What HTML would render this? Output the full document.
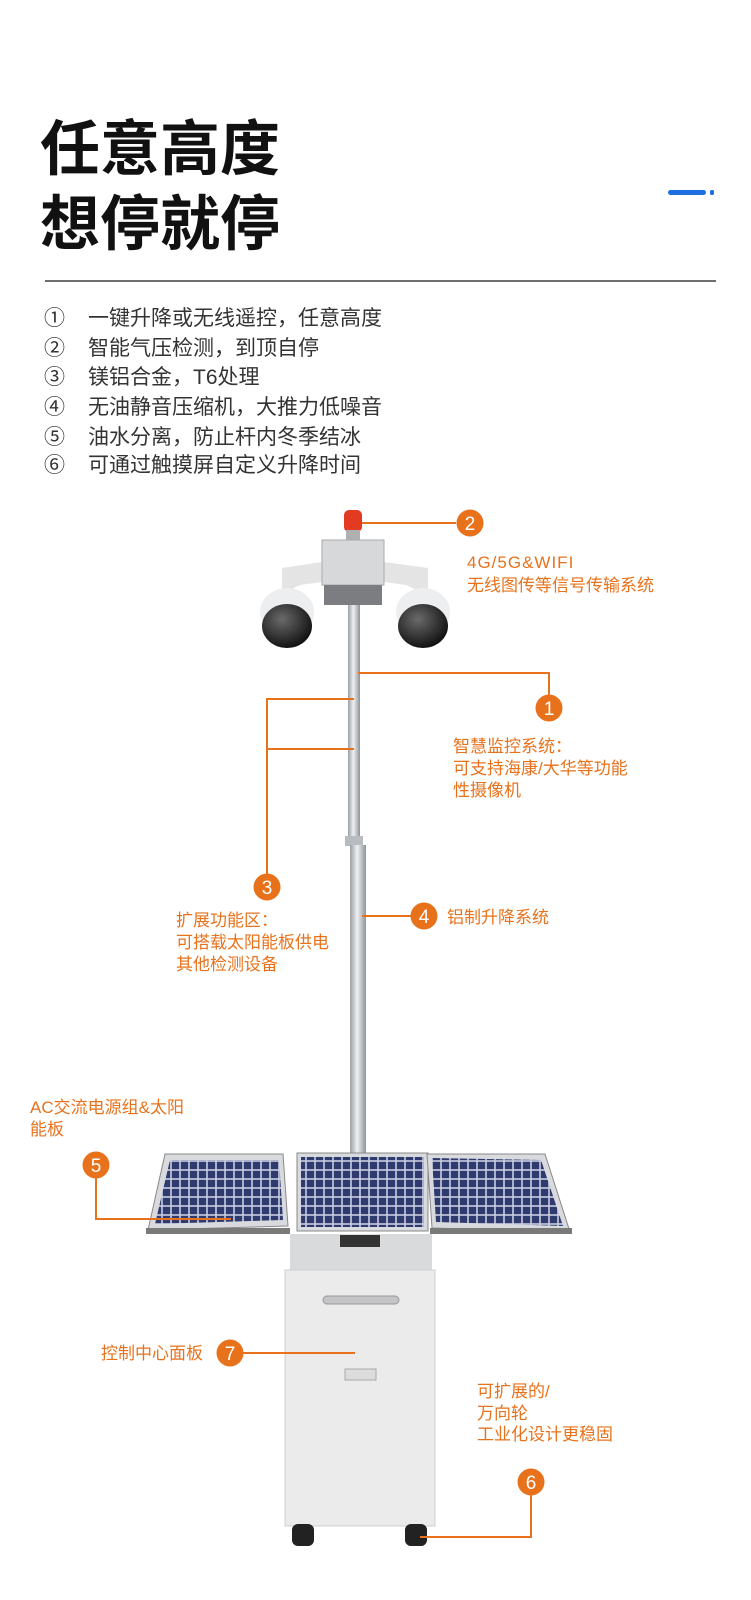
<!DOCTYPE html>
<html><head><meta charset="utf-8"><style>
html,body{margin:0;padding:0;background:#fff;}
svg{display:block}
.t{font-family:"Liberation Sans","Noto Sans CJK SC",sans-serif;}
.o{fill:#e8721c;font-size:17px;font-family:"Liberation Sans","Noto Sans CJK SC",sans-serif;}
.l{fill:#333;font-size:21px;font-family:"Liberation Sans","Noto Sans CJK SC",sans-serif;}
.n{fill:#fff;font-size:19px;font-family:"Liberation Sans",sans-serif;text-anchor:middle;}
</style></head><body>
<svg width="751" height="1600" viewBox="0 0 751 1600" xmlns="http://www.w3.org/2000/svg">
<defs>
<pattern id="cells" width="9" height="9" patternUnits="userSpaceOnUse">
<rect width="9" height="9" fill="#c9cde0"/><rect x="0.8" y="0.8" width="7.4" height="7.4" fill="#2f3a6e"/>
</pattern>
<linearGradient id="pole" x1="0" x2="1"><stop offset="0" stop-color="#9a9ea3"/><stop offset="0.45" stop-color="#eef0f2"/><stop offset="1" stop-color="#8f9397"/></linearGradient>
<radialGradient id="dome" cx="0.4" cy="0.35" r="0.7"><stop offset="0" stop-color="#6a6a6a"/><stop offset="1" stop-color="#0c0c0c"/></radialGradient>
</defs>
<!-- title -->
<text class="t" x="40" y="170" font-size="60" font-weight="bold" fill="#111" textLength="240" lengthAdjust="spacingAndGlyphs">任意高度</text>
<text class="t" x="40" y="245" font-size="60" font-weight="bold" fill="#111" textLength="240" lengthAdjust="spacingAndGlyphs">想停就停</text>
<rect x="668" y="190" width="38" height="5" rx="2.5" fill="#1f6fe0"/>
<rect x="710" y="190" width="4" height="5" rx="1.5" fill="#1f6fe0"/>
<rect x="45" y="280" width="671" height="2" fill="#6e6e6e"/>
<!-- list -->
<g class="l">
<text x="44" y="325">①</text><text x="88" y="325">一键升降或无线遥控，任意高度</text>
<text x="44" y="355">②</text><text x="88" y="355">智能气压检测，到顶自停</text>
<text x="44" y="384">③</text><text x="88" y="384">镁铝合金，T6处理</text>
<text x="44" y="414">④</text><text x="88" y="414">无油静音压缩机，大推力低噪音</text>
<text x="44" y="444">⑤</text><text x="88" y="444">油水分离，防止杆内冬季结冰</text>
<text x="44" y="472">⑥</text><text x="88" y="472">可通过触摸屏自定义升降时间</text>
</g>
<!-- pole -->
<rect x="348" y="600" width="12" height="242" fill="url(#pole)"/>
<rect x="345" y="836" width="18" height="10" fill="#b8bcc0"/>
<rect x="350" y="845" width="16" height="315" fill="url(#pole)"/>
<!-- beacon and box -->
<rect x="344" y="510" width="18" height="22" rx="5" fill="#e33a22"/>
<rect x="346" y="530" width="14" height="10" fill="#b0b0b0"/>
<path d="M282 568 L322 562 L322 582 L300 585 Q288 590 282 598 Z" fill="#e4e4e4"/>
<path d="M428 568 L384 562 L384 582 L406 585 Q418 590 428 598 Z" fill="#e4e4e4"/>
<rect x="322" y="540" width="62" height="45" fill="#d7d8da" stroke="#aaa"/>
<rect x="324" y="585" width="58" height="20" fill="#7b7d80"/>
<!-- cameras -->
<ellipse cx="287" cy="612" rx="27" ry="24" fill="#eceef0"/>
<ellipse cx="287" cy="626" rx="25" ry="22" fill="url(#dome)"/>
<ellipse cx="423" cy="612" rx="27" ry="24" fill="#eceef0"/>
<ellipse cx="423" cy="626" rx="25" ry="22" fill="url(#dome)"/>
<!-- solar panels -->
<g>
<polygon points="165,1154 283,1154 288,1226 148,1230" fill="#d8dade" stroke="#888"/>
<polygon points="170,1160 279,1160 283,1220 155,1224" fill="url(#cells)"/>
<rect x="297" y="1153" width="131" height="78" fill="#d8dade" stroke="#888"/>
<rect x="301" y="1157" width="123" height="70" fill="url(#cells)"/>
<polygon points="427,1154 545,1154 570,1232 432,1228" fill="#d8dade" stroke="#888"/>
<polygon points="432,1158 541,1160 563,1226 436,1222" fill="url(#cells)"/>
<rect x="146" y="1228" width="144" height="6" fill="#7a7a7a"/>
<rect x="430" y="1228" width="142" height="6" fill="#7a7a7a"/>
</g>
<!-- cabinet -->
<rect x="290" y="1234" width="142" height="38" fill="#d9dadc"/>
<rect x="340" y="1235" width="40" height="12" fill="#333"/>
<rect x="285" y="1270" width="150" height="256" fill="#ebebec" stroke="#cfcfd1"/>
<rect x="323" y="1296" width="76" height="8" rx="4" fill="#c4c4c6" stroke="#999"/>
<rect x="345" y="1369" width="31" height="11" fill="#dcdcdd" stroke="#aaa"/>
<rect x="292" y="1524" width="22" height="22" rx="6" fill="#222"/>
<rect x="405" y="1524" width="22" height="22" rx="6" fill="#222"/>
<!-- connectors -->
<g stroke="#e8721c" stroke-width="2" fill="none">
<path d="M362 523 H456"/>
<path d="M358 673 H549 V695"/>
<path d="M354 699 H267 V874 M267 749 H354"/>
<path d="M362 916 H411"/>
<path d="M96 1178 V1219 H231"/>
<path d="M243 1353 H355"/>
<path d="M531 1495 V1537 H420"/>
</g>
<g fill="#e8721c">
<circle cx="470" cy="523" r="13.5"/><circle cx="549" cy="708" r="13.5"/>
<circle cx="267" cy="887" r="13.5"/><circle cx="424" cy="916" r="13.5"/>
<circle cx="96" cy="1165" r="13.5"/><circle cx="230" cy="1353" r="13.5"/>
<circle cx="531" cy="1482" r="13.5"/>
</g>
<g class="n">
<text x="470" y="530">2</text><text x="549" y="715">1</text><text x="267" y="894">3</text>
<text x="424" y="923">4</text><text x="96" y="1172">5</text><text x="230" y="1360">7</text><text x="531" y="1489">6</text>
</g>
<!-- labels -->
<g class="o">
<text x="467" y="568" letter-spacing="1">4G/5G&amp;WIFI</text>
<text x="467" y="591">无线图传等信号传输系统</text>
<text x="453" y="752">智慧监控系统：</text>
<text x="453" y="774">可支持海康/大华等功能</text>
<text x="453" y="796">性摄像机</text>
<text x="176" y="926">扩展功能区：</text>
<text x="176" y="948">可搭载太阳能板供电</text>
<text x="176" y="970">其他检测设备</text>
<text x="447" y="923">铝制升降系统</text>
<text x="30" y="1113">AC交流电源组&amp;太阳</text>
<text x="30" y="1135">能板</text>
<text x="101" y="1359">控制中心面板</text>
<text x="477" y="1397">可扩展的/</text>
<text x="477" y="1419">万向轮</text>
<text x="477" y="1440">工业化设计更稳固</text>
</g>
</svg>
</body></html>
